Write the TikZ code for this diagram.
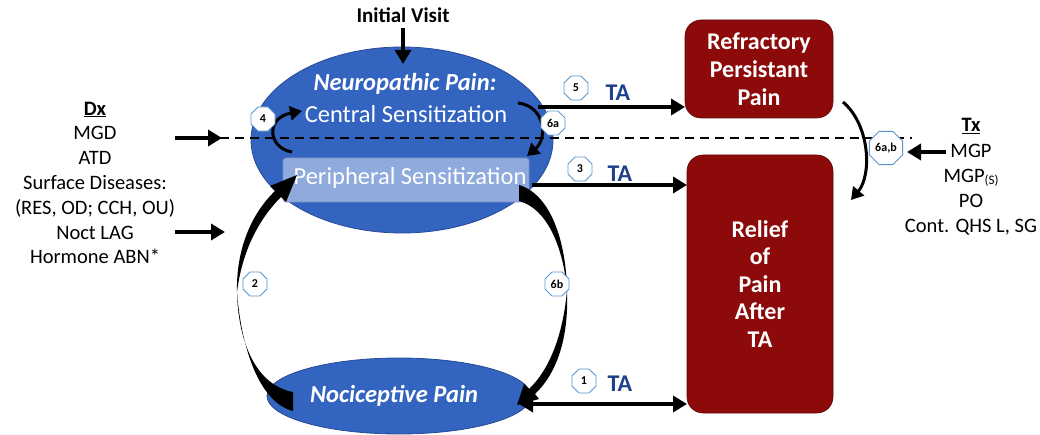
\documentclass[tikz,border=0pt]{standalone}
\usepackage{fontspec}
\setmainfont{Carlito}
\usetikzlibrary{shapes.geometric,arrows.meta}
\definecolor{eblue}{RGB}{50,100,192}
\definecolor{eborder}{RGB}{40,75,150}
\definecolor{pblue}{RGB}{143,170,220}
\definecolor{dred}{RGB}{140,10,10}
\definecolor{tablue}{RGB}{30,65,140}
\definecolor{octblue}{RGB}{90,150,210}
\tikzset{
  bigell/.style={ellipse, fill=eblue, draw=eborder, line width=0.8pt, inner sep=0},
  redbox/.style={rectangle, rounded corners=16pt, fill=dred, draw=dred!70!black, line width=0.6pt, text=white, font=\fontsize{24}{28}\selectfont\bfseries, align=center},
  oct/.style={regular polygon, regular polygon sides=8, fill=white, draw=octblue, line width=0.8pt, inner sep=0, minimum size=26pt, font=\fontsize{12}{13}\selectfont\bfseries},
  fat/.style={line width=4pt, -{Triangle[length=14pt,width=16pt]}},
  curv/.style={line width=3pt, -{Triangle[length=12pt,width=14pt]}},
  ta/.style={text=tablue, font=\fontsize{24}{26}\selectfont\bfseries},
  side/.style={align=center, font=\fontsize{20.5}{24.8}\selectfont},
  wtext/.style={text=white, inner sep=0, font=\fontsize{24.5}{26}\selectfont}
}
\begin{document}
\begin{tikzpicture}[x=1pt,y=-1pt]
\useasboundingbox (0,0) rectangle (1040,435);
% ellipses
\node[bigell, minimum width=302pt, minimum height=186pt] (np) at (402,140) {};
\node[rectangle, rounded corners=3pt, fill=pblue, draw=eborder!60, line width=0.6pt, minimum width=246pt, minimum height=44pt] (ps) at (406,180) {};
\node[wtext] at (410,178) {Peripheral Sensitization};
\node[wtext, font=\fontsize{24.5}{26}\selectfont\bfseries\itshape] (npt) at (405,84) {Neuropathic Pain:};
\node[wtext] (cs) at (406,114) {Central Sensitization};
\node[bigell, minimum width=264pt, minimum height=76pt] (noc) at (399,396) {};
\node[wtext, font=\fontsize{24.5}{26}\selectfont\bfseries\itshape] at (394,396) {Nociceptive Pain};
% red boxes
\node[redbox, minimum width=148pt, minimum height=98pt] (ref) at (759,69) {Refractory\\Persistant\\Pain};
\node[redbox, minimum width=146pt, minimum height=258pt, font=\fontsize{24}{27.5}\selectfont\bfseries] (rel) at (760,284) {Relief\\of\\Pain\\After\\TA};
% initial visit
\node[font=\fontsize{21}{22}\selectfont\bfseries] (iv) at (403,15) {Initial Visit};
\coordinate (ivs) at (403,28);
\coordinate (ive) at (403,64);
\draw[fat] (ivs) -- (ive);
% dashed line
\coordinate (dl) at (190,138);
\coordinate (dr) at (912,138);
\draw[line width=2pt, dash pattern=on 9pt off 6pt] (dl) -- (dr);
% Dx
\node[side] (dx) at (95,183) {\underline{\textbf{Dx}}\\MGD\\ATD\\Surface Diseases:\\(RES, OD; CCH, OU)\\Noct LAG\\Hormone ABN*};
\coordinate (a1s) at (175,138); \coordinate (a1e) at (222,138);
\coordinate (a2s) at (175,232); \coordinate (a2e) at (225,232);
\draw[fat] (a1s) -- (a1e);
\draw[fat] (a2s) -- (a2e);
% Tx
\node[side, font=\fontsize{20.5}{25.2}\selectfont] (tx) at (971,177) {\underline{\textbf{Tx}}\\MGP\\MGP{\fontsize{13}{14}\selectfont\raisebox{-0.35ex}{(S)}}\\PO\\Cont. QHS L, SG};
\coordinate (t1s) at (946,152); \coordinate (t1e) at (907,152);
\draw[fat] (t1s) -- (t1e);
% curved 6a,b
\coordinate (c6s) at (843,102); \coordinate (c6e) at (851,200);
\draw[curv] (c6s) .. controls (870,125) and (872,175) .. (c6e);
\node[oct, minimum size=36pt, font=\fontsize{12}{13}\selectfont\bfseries] (o6ab) at (886,148) {6a,b};
% straight TA arrows
\coordinate (s5) at (538,107); \coordinate (e5) at (685,107);
\draw[fat] (s5) -- (e5);
\coordinate (s3) at (532,185); \coordinate (e3) at (687,185);
\draw[fat] (s3) -- (e3);
\coordinate (s1) at (519,404); \coordinate (e1) at (687,404);
\draw[line width=4pt, {Triangle[length=14pt,width=16pt]}-{Triangle[length=14pt,width=16pt]}] (s1) -- (e1);
\node[oct] (o5) at (576,88) {5};
\node[ta] at (618,93) {TA};
\node[oct] (o3) at (580,169) {3};
\node[ta] at (620,174) {TA};
\node[oct] (o1) at (584,381) {1};
\node[ta] at (620,384) {TA};
% curved 4 and 6a
\coordinate (c4s) at (292,152); \coordinate (c4e) at (302,111);
\draw[curv] (c4s) .. controls (268,148) and (265,118) .. (c4e);
\node[oct] (o4) at (263,119) {4};
\coordinate (c6as) at (518,103); \coordinate (c6ae) at (527,156);
\draw[curv] (c6as) .. controls (545,106) and (548,138) .. (c6ae);
\node[oct] (o6a) at (553,123) {6a};
% tapered arrow 2
\fill (293,392) .. controls (255,385) and (238,340) .. (237,292) .. controls (241,345) and (258,402) .. (293,411) -- cycle;
\fill (237,292) .. controls (236,250) and (251,214) .. (275,191) -- (270,186) -- (297,175) -- (286,202) -- (281,197) .. controls (258,220) and (242,252) .. (237,292) -- cycle;
\node[oct] (o2) at (255,284) {2};
% tapered arrow 6b
\fill (519,185) .. controls (550,194) and (566,240) .. (567,290) .. controls (563,245) and (546,208) .. (519,201) -- cycle;
\fill (567,290) .. controls (569,340) and (556,374) .. (535,394) -- (539,399) -- (517,405) -- (524,384) -- (529,389) .. controls (549,370) and (563,336) .. (567,290) -- cycle;
\node[oct] (o6b) at (557,284) {6b};
\end{tikzpicture}
\end{document}
